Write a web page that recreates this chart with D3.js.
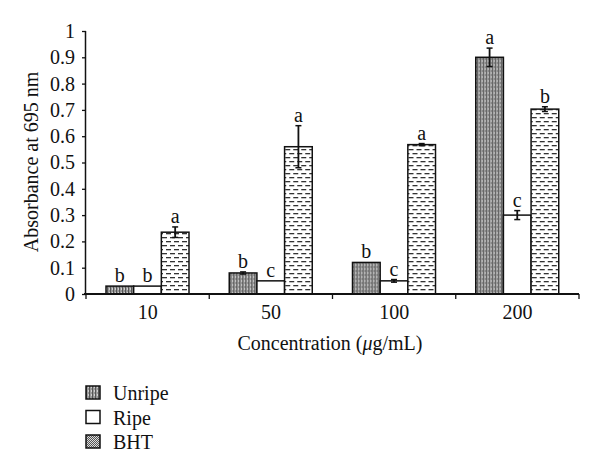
<!DOCTYPE html>
<html><head><meta charset="utf-8">
<script src="https://cdn.jsdelivr.net/npm/d3@7"></script>
<style>body{margin:0;background:#fff}</style>
</head><body><svg id="c" width="600" height="471"></svg>
<script>
const categories = ["10","50","100","200"];
const seriesNames = ["Unripe","Ripe","BHT"];
const unripe = [0.03,0.08,0.12,0.90];
const ripe = [0.03,0.05,0.05,0.30];
const bht = [0.235,0.56,0.568,0.703];
const unripeErr = [0.0,0.004,0.0,0.035];
const ripeErr = [0.0,0.0,0.005,0.017];
const bhtErr = [0.02,0.08,0.004,0.009];
const unripeLetters = ["b","b","b","a"];
const ripeLetters = ["b","c","c","c"];
const bhtLetters = ["a","a","a","b"];
const yTicks = [0,0.1,0.2,0.3,0.4,0.5,0.6,0.7,0.8,0.9,1];

const FONT = "'Liberation Serif', 'Times New Roman', Times, 'DejaVu Serif', serif";
const FS = 20;
const svg = d3.select("#c").attr("font-family", FONT).style("font-family", FONT);
const defs = svg.append("defs");
// Unripe pattern: vertical stripes
const p1 = defs.append("pattern").attr("id","pU").attr("patternUnits","userSpaceOnUse").attr("width",3).attr("height",4);
p1.append("rect").attr("width",3).attr("height",4).attr("fill","#999");
p1.append("rect").attr("x",0).attr("width",1).attr("height",4).attr("fill","#555");
p1.append("rect").attr("x",2).attr("width",1).attr("height",2).attr("fill","#d0d0d0");
// BHT pattern: horizontal dashes
const p2 = defs.append("pattern").attr("id","pB").attr("patternUnits","userSpaceOnUse").attr("width",8).attr("height",8);
p2.append("rect").attr("width",8).attr("height",8).attr("fill","#fff");
p2.append("rect").attr("x",0).attr("y",1).attr("width",5).attr("height",1.3).attr("fill","#333");
p2.append("rect").attr("x",4).attr("y",5).attr("width",5).attr("height",1.3).attr("fill","#333");
p2.append("rect").attr("x",-4).attr("y",5).attr("width",5).attr("height",1.3).attr("fill","#333");
// Legend BHT checker
const p3 = defs.append("pattern").attr("id","pL").attr("patternUnits","userSpaceOnUse").attr("width",2).attr("height",2);
p3.append("rect").attr("width",2).attr("height",2).attr("fill","#ddd");
p3.append("rect").attr("width",1).attr("height",1).attr("fill","#555");
p3.append("rect").attr("x",1).attr("y",1).attr("width",1).attr("height",1).attr("fill","#555");

const fills = ["url(#pU)","#fff","url(#pB)"];
const legendFills = ["url(#pU)","#fff","url(#pL)"];

const x0 = d3.scaleBand().domain(categories).range([86,579]).paddingInner(0).paddingOuter(0);
const x1 = d3.scaleBand().domain(seriesNames).range([20,103]);
const y = d3.scaleLinear().domain([0,1]).range([294,31]);

const data = categories.map((c,i)=>({c, vals:[
  {s:"Unripe",v:unripe[i],e:unripeErr[i],l:unripeLetters[i],f:fills[0]},
  {s:"Ripe",v:ripe[i],e:ripeErr[i],l:ripeLetters[i],f:fills[1]},
  {s:"BHT",v:bht[i],e:bhtErr[i],l:bhtLetters[i],f:fills[2]}]}));

function txt(sel){ return sel.attr("font-family",FONT).attr("font-size",FS).attr("fill","#111"); }

const g = svg.append("g");
const grp = g.selectAll("g.grp").data(data).join("g").attr("transform",d=>`translate(${x0(d.c)},0)`);
grp.selectAll("rect").data(d=>d.vals).join("rect")
  .attr("x",d=>x1(d.s)).attr("width",x1.bandwidth())
  .attr("y",d=>y(d.v)).attr("height",d=>y(0)-y(d.v))
  .attr("fill",d=>d.f).attr("stroke","#111").attr("stroke-width",1.5);
const eb = grp.selectAll("g.eb").data(d=>d.vals.filter(v=>v.e>0)).join("g");
const cx = d=>x1(d.s)+x1.bandwidth()/2;
eb.append("line").attr("x1",cx).attr("x2",cx)
  .attr("y1",d=>y(d.v+d.e)).attr("y2",d=>y(d.v-d.e)).attr("stroke","#111").attr("stroke-width",1.8);
eb.append("line").attr("x1",d=>cx(d)-3).attr("x2",d=>cx(d)+3)
  .attr("y1",d=>y(d.v+d.e)).attr("y2",d=>y(d.v+d.e)).attr("stroke","#111").attr("stroke-width",1.5);
eb.append("line").attr("x1",d=>cx(d)-3).attr("x2",d=>cx(d)+3)
  .attr("y1",d=>y(d.v-d.e)).attr("y2",d=>y(d.v-d.e)).attr("stroke","#111").attr("stroke-width",1.5);
txt(grp.selectAll("text.lt").data(d=>d.vals).join("text").attr("class","lt")
  .attr("x",cx).attr("y",d=>y(d.v+d.e)-4)
  .attr("text-anchor","middle")).text(d=>d.l);

// Y axis
const ya = svg.append("g").attr("transform","translate(86,0)")
  .call(d3.axisLeft(y).tickValues(yTicks).tickFormat(d=>d===0?"0":d===1?"1":d3.format(".1f")(d)).tickSize(4).tickPadding(7));
ya.attr("font-family",FONT).attr("font-size",FS);
ya.select(".domain").attr("stroke","#111").attr("stroke-width",1.5).attr("d","M-0.5,31V294");
ya.selectAll(".tick line").attr("stroke","#111").attr("stroke-width",1.3);
txt(ya.selectAll(".tick text"));

// X axis
const xa = svg.append("g").attr("transform","translate(0,294)");
xa.append("line").attr("x1",x0.range()[0]-2).attr("x2",x0.range()[1]).attr("stroke","#111").attr("stroke-width",1.8);
const bounds = categories.map(c=>x0(c)).concat([x0.range()[1]]);
xa.selectAll("line.t").data(bounds).join("line").attr("class","t").attr("x1",d=>d).attr("x2",d=>d).attr("y1",0).attr("y2",5).attr("stroke","#111").attr("stroke-width",1.3);
txt(xa.selectAll("text").data(categories).join("text").attr("x",d=>x0(d)+x0.bandwidth()/2).attr("y",25)
  .attr("text-anchor","middle")).text(d=>d);

const tt = txt(svg.append("text").attr("x",330).attr("y",350).attr("text-anchor","middle"));
tt.append("tspan").text("Concentration (");
tt.append("tspan").attr("font-style","italic").text("μ");
tt.append("tspan").text("g/mL)");
txt(svg.append("text").attr("transform","translate(38,162) rotate(-90)").attr("text-anchor","middle"))
  .text("Absorbance at 695 nm");

// Legend
const lg = svg.append("g").selectAll("g").data(seriesNames).join("g").attr("transform",(d,i)=>`translate(86,${386+i*24.5})`);
lg.append("rect").attr("width",14).attr("height",13).attr("fill",(d,i)=>legendFills[i]).attr("stroke","#111").attr("stroke-width",1.5);
txt(lg.append("text").attr("x",27).attr("y",14)).text(d=>d);
</script></body></html>
